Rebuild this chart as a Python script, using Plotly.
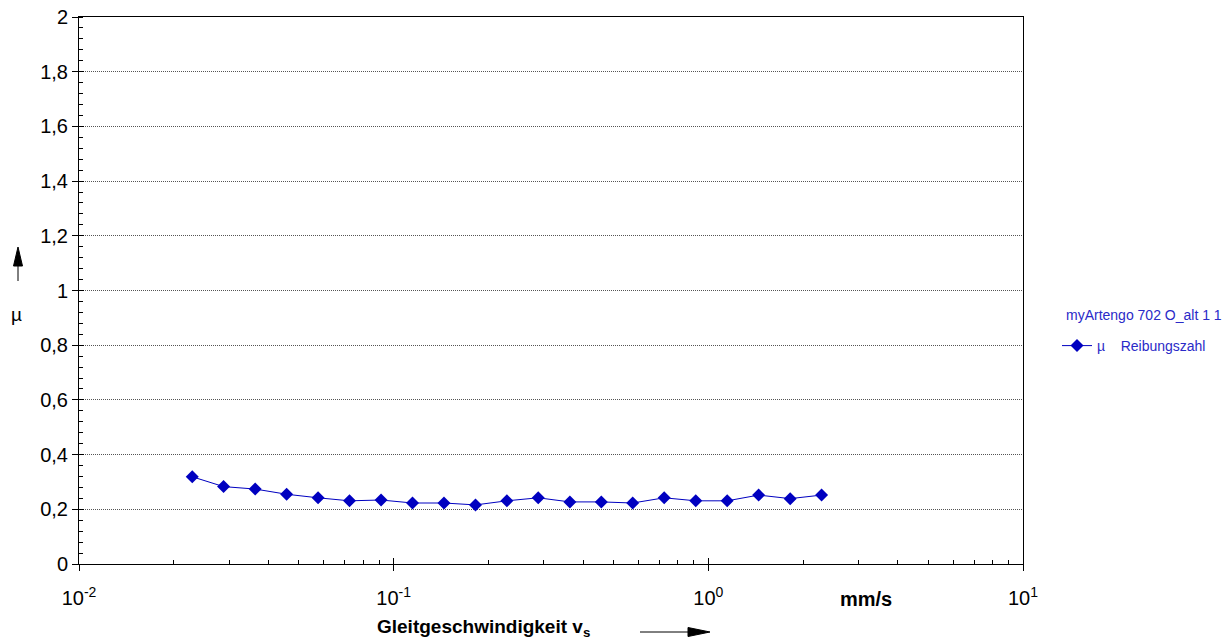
import plotly.graph_objects as go

# Data
speed_mm_s = [0.0229, 0.0288, 0.0363, 0.0457, 0.0575, 0.0724, 0.0912, 0.1148, 0.1445, 0.182,
              0.229, 0.288, 0.363, 0.457, 0.575, 0.724, 0.912, 1.148, 1.445, 1.82, 2.29]
mu_values = [0.319, 0.283, 0.274, 0.255, 0.242, 0.231, 0.234, 0.223, 0.223, 0.216,
             0.231, 0.242, 0.227, 0.227, 0.223, 0.242, 0.231, 0.231, 0.252, 0.239, 0.252]
x_tick_vals = [0.01, 0.1, 1, 10]
x_tick_text = ["10<sup>-2</sup>", "10<sup>-1</sup>", "10<sup>0</sup>", "10<sup>1</sup>"]
y_tick_vals = [0, 0.2, 0.4, 0.6, 0.8, 1.0, 1.2, 1.4, 1.6, 1.8, 2.0]
x_minor_vals = [m * d for d in (0.01, 0.1, 1) for m in range(2, 10)]

FONT = "Liberation Sans, Arial, sans-serif"
BLUE = "#0000c0"
LEGEND_BLUE = "#2a2ac8"

fig = go.Figure()
fig.add_trace(go.Scatter(
    x=speed_mm_s, y=mu_values, mode="lines+markers",
    name="\u00b5\u00a0\u00a0\u00a0\u00a0Reibungszahl",
    line=dict(color=BLUE, width=1),
    marker=dict(symbol="diamond", size=10, color=BLUE),
))
# invisible trace keeping the overlay axes (crossing major ticks) alive
fig.add_trace(go.Scatter(x=[0.01], y=[None], xaxis="x2", yaxis="y2",
                         showlegend=False, hoverinfo="skip", mode="markers"))

W, H = 1229, 644
L, R, T, B = 79, 1023, 17, 564
pw, ph = R - L, B - T

def px(xp):
    return (xp - L) / pw

def py(yp):
    return (B - yp) / ph

fig.update_layout(
    template="none",
    width=W, height=H,
    margin=dict(l=L, r=W - R, t=T, b=H - B, pad=0, autoexpand=False),
    paper_bgcolor="white", plot_bgcolor="white",
    font=dict(family=FONT, color="black", size=16),
    separators=",.",
    showlegend=True,
    legend=dict(
        x=px(1057), y=py(330), xanchor="left", yanchor="top",
        font=dict(family=FONT, size=14, color=LEGEND_BLUE),
        bgcolor="rgba(0,0,0,0)", borderwidth=0,
    ),
    xaxis=dict(
        type="log", range=[-2, 1], automargin=False,
        tickmode="array", tickvals=x_tick_vals, ticktext=x_tick_text,
        ticks="outside", ticklen=6, tickcolor="black", tickwidth=1,
        ticklabelstandoff=10,
        tickfont=dict(family=FONT, size=20),
        showgrid=False, zeroline=False,
        showline=True, linecolor="black", linewidth=1, mirror=True,
        minor=dict(tickmode="array", tickvals=x_minor_vals, ticks="inside",
                   ticklen=4, tickcolor="black", showgrid=False),
    ),
    xaxis2=dict(
        type="log", range=[-2, 1], overlaying="x", anchor="y", automargin=False,
        tickmode="array", tickvals=x_tick_vals, ticks="inside", ticklen=6,
        tickcolor="black", showticklabels=False, showgrid=False, zeroline=False,
        showline=False,
    ),
    yaxis=dict(
        range=[0, 2], automargin=False, tickmode="array", tickvals=y_tick_vals,
        ticks="outside", ticklen=6, tickcolor="black",
        tickfont=dict(family=FONT, size=20),
        showgrid=True, gridcolor="#555555", gridwidth=1, griddash="1px,1px",
        zeroline=False,
        showline=True, linecolor="black", linewidth=1, mirror=True,
        minor=dict(dtick=0.04, tick0=0, ticks="inside", ticklen=4,
                   tickcolor="black", showgrid=False),
    ),
    yaxis2=dict(
        range=[0, 2], overlaying="y", anchor="x", automargin=False,
        tickmode="array", tickvals=y_tick_vals, ticks="inside", ticklen=5,
        tickcolor="black", showticklabels=False, showgrid=False, zeroline=False,
        showline=False,
    ),
)

annotations = [
    dict(text="myArtengo 702 O_alt 1 1", x=px(1064), y=py(315), xref="paper", yref="paper",
         showarrow=False, font=dict(family=FONT, size=14, color=LEGEND_BLUE),
         xanchor="left", yanchor="middle"),
    dict(text="<b>mm/s</b>", x=px(866), y=py(599), xref="paper", yref="paper",
         showarrow=False, font=dict(family=FONT, size=20, color="black"),
         xanchor="center", yanchor="middle"),
    dict(text="<b>Gleitgeschwindigkeit v<sub>s</sub></b>", x=px(375), y=py(628),
         xref="paper", yref="paper", showarrow=False,
         font=dict(family=FONT, size=19, color="black"),
         xanchor="left", yanchor="middle"),
    dict(text="\u00b5", x=px(17), y=py(314), xref="paper", yref="paper",
         showarrow=False, font=dict(family=FONT, size=19, color="black"),
         xanchor="center", yanchor="middle"),
]

# Decorative axis-direction arrows (shaft + filled head), in paper coordinates
shapes = [
    dict(type="line", xref="paper", yref="paper",
         x0=px(640), y0=py(632), x1=px(692), y1=py(632),
         line=dict(color="black", width=1)),
    dict(type="path", xref="paper", yref="paper",
         path=f"M {px(710)},{py(632)} L {px(688)},{py(627.5)} L {px(688)},{py(636.5)} Z",
         fillcolor="black", line=dict(color="black", width=1)),
    dict(type="line", xref="paper", yref="paper",
         x0=px(18), y0=py(281), x1=px(18), y1=py(262),
         line=dict(color="black", width=1)),
    dict(type="path", xref="paper", yref="paper",
         path=f"M {px(18)},{py(247)} L {px(13.5)},{py(266)} L {px(22.5)},{py(266)} Z",
         fillcolor="black", line=dict(color="black", width=1)),
]
fig.update_layout(annotations=annotations, shapes=shapes)

fig.write_html("out.html")
